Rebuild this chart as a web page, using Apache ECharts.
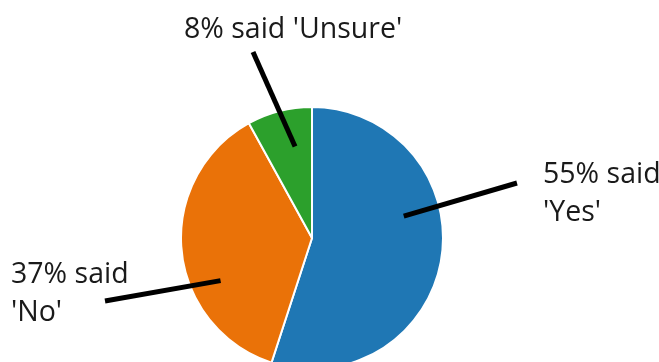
<!DOCTYPE html>
<html>
<head>
<meta charset="utf-8">
<title>Survey responses</title>
<script src="https://cdn.jsdelivr.net/npm/echarts@6/dist/echarts.min.js"></script>
<style>
  html, body { margin: 0; padding: 0; background: #ffffff; }
  #chart { width: 659px; height: 362px; }
</style>
</head>
<body>
<div id="chart"></div>
<script>
// Answers, in the order they are drawn clockwise from 12 o'clock
const answers = ['Yes', 'No', 'Unsure'];
const shares = [55, 37, 8];
const sliceColors = ['#1f77b4', '#ea7208', '#2ca02c'];
// Separator between the percentage and the quoted answer in each callout
const labelBreaks = ['\n', '\n', ' '];

// Pie geometry (px)
const CX = 312, CY = 238, R = 131;

// Callout placement: label anchor, outer end of the pointer,
// inner end of the pointer given as angle (deg, clockwise from top) and radius fraction
const callouts = [
  { x: 543, y: 156, from: [517, 183], angle: 76.6, r: 0.72 },
  { x: 11,  y: 256, from: [105, 301], angle: 245, r: 0.77 },
  { x: 184, y: 11,  from: [253, 52],  angle: 349.5, r: 0.71 }
];

function polar(angleDeg, frac) {
  const a = angleDeg * Math.PI / 180;
  return [CX + Math.sin(a) * R * frac, CY - Math.cos(a) * R * frac];
}

const sliceData = answers.map((name, i) => ({
  name: name,
  value: shares[i],
  itemStyle: { color: sliceColors[i] }
}));

const chart = echarts.init(document.getElementById('chart'), null, { renderer: 'canvas' });

chart.setOption({
  animation: false,
  backgroundColor: '#ffffff',
  series: [
    {
      // the coloured slices
      type: 'pie',
      z: 2,
      center: [CX, CY],
      radius: R,
      startAngle: 90,
      clockwise: true,
      itemStyle: { borderColor: '#ffffff', borderWidth: 2 },
      label: { show: false },
      labelLine: { show: false },
      emphasis: { disabled: true },
      data: sliceData
    },
    {
      // transparent copy on top, carrying the callouts and their pointers
      type: 'pie',
      z: 3,
      center: [CX, CY],
      radius: R,
      startAngle: 90,
      clockwise: true,
      avoidLabelOverlap: false,
      silent: true,
      itemStyle: { color: 'rgba(0,0,0,0)', borderWidth: 0 },
      label: {
        show: true,
        position: 'outside',
        fontFamily: 'Open Sans',
        fontSize: 28.5,
        lineHeight: 38,
        color: '#1a1a1a',
        formatter: p => p.value + '% said' + labelBreaks[p.dataIndex] + "'" + p.name + "'"
      },
      labelLine: {
        show: true,
        lineStyle: { color: '#000000', width: 5 }
      },
      labelLayout: params => {
        const c = callouts[params.dataIndex];
        return {
          x: c.x,
          y: c.y,
          align: 'left',
          verticalAlign: 'top',
          labelLinePoints: [c.from, c.from, polar(c.angle, c.r)]
        };
      },
      emphasis: { disabled: true },
      data: answers.map((name, i) => ({ name: name, value: shares[i] }))
    }
  ]
});
</script>
</body>
</html>
